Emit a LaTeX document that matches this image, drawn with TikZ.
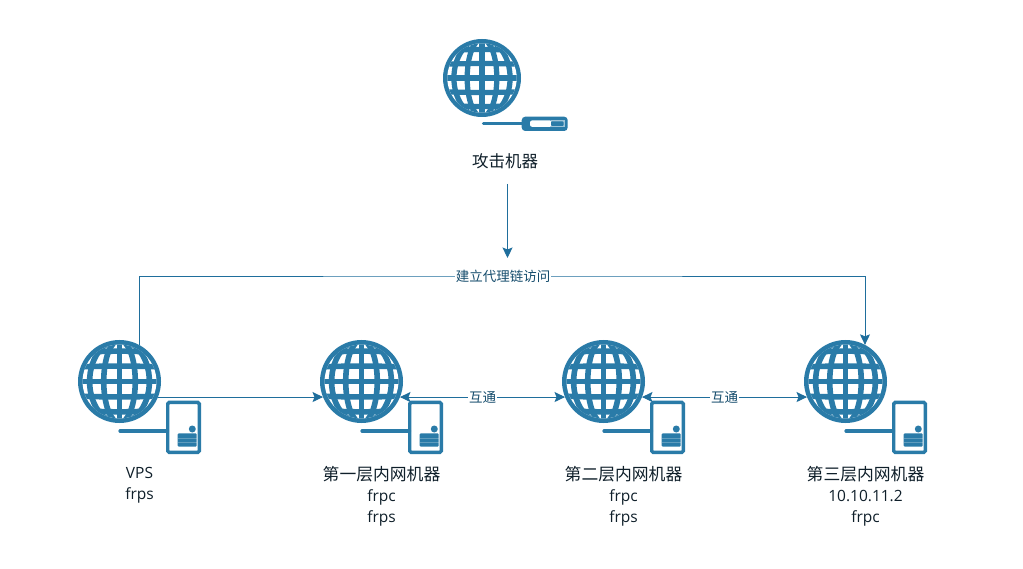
\documentclass[tikz,border=0pt]{standalone}
\usepackage{fontspec}
\setmainfont{Open Sans}
\newfontfamily\cjk{Noto Sans CJK SC}
\usetikzlibrary{arrows.meta,calc}
\definecolor{iconblue}{HTML}{2A7BA8}
\definecolor{linkblue}{HTML}{1F6E9C}
\definecolor{labelink}{HTML}{0F1F2A}
\tikzset{
  x=1pt,y=1pt,
  tipshape/.tip={Stealth[length=10.5pt,width=10pt,inset=2pt]},
  conn/.style={draw=linkblue,line width=0.9pt,-tipshape},
  connboth/.style={draw=linkblue,line width=0.9pt,tipshape-tipshape},
  hub/.style={circle,minimum size=#1,inner sep=0pt,outer sep=0pt},
  caption/.style={align=center,font=\fontsize{15.5}{21}\selectfont,text=labelink},
  cjkcap/.style={font=\cjk\fontsize{16.8}{21}\selectfont},
  linklabel/.style={fill=white,inner sep=1pt,font=\cjk\fontsize{13.5}{15}\selectfont,text=linkblue!70!black},
}
\newcommand{\globeat}[2]{%
  \begin{scope}[shift={(#1)},x=#2pt,y=#2pt]
    \fill[iconblue] (0,0) circle (1);
    \clip (0,0) circle (0.89);
    \fill[white] (-1,-1) rectangle (1,1);
    \foreach \k in {-0.69,-0.35,0,0.35,0.69}{
      \draw[iconblue,line width=0.135*#2pt] (-1,\k) .. controls (-0.4,\k*1.08) and (0.4,\k*1.08) .. (1,\k);
    }
    \draw[iconblue,line width=0.135*#2pt] (0,-1) -- (0,1);
    \draw[iconblue,line width=0.135*#2pt] (0,0) ellipse (0.38 and 1);
    \draw[iconblue,line width=0.135*#2pt] (0,0) ellipse (0.72 and 1);
  \end{scope}}
\newcommand{\serverat}[1]{%
  \begin{scope}[shift={(#1)}]
    \draw[iconblue,line width=3.4pt,rounded corners=1.5pt] (48.2,-20.9) rectangle (79.8,-70.9);
    \draw[iconblue,line width=3.2pt,line cap=round] (0.5,-49.5) -- (48,-49.5);
    \fill[iconblue] (72.8,-47.5) circle (3.5);
    \fill[iconblue,rounded corners=1pt] (58.2,-51.8) rectangle (77.2,-65.2);
    \draw[white,opacity=0.25,line width=0.5pt] (58.2,-56.3) -- (77.2,-56.3) (58.2,-60.8) -- (77.2,-60.8);
  \end{scope}}
\begin{document}
\begin{tikzpicture}
\useasboundingbox (0,0) rectangle (1023,-569);
\fill[white] (0,0) rectangle (1023,-569);

% hubs
\node[hub=83pt] (vps) at (119.5,-381.5) {};
\node[hub=83pt] (lone) at (361.5,-381.5) {};
\node[hub=83pt] (ltwo) at (603.5,-381.5) {};
\node[hub=83pt] (lthree) at (845.5,-381.5) {};
\node[hub=78pt] (atk) at (482,-78) {};

\globeat{vps.center}{41.5}
\globeat{lone.center}{41.5}
\globeat{ltwo.center}{41.5}
\globeat{lthree.center}{41.5}
\globeat{atk.center}{39}
\serverat{vps.center}
\serverat{lone.center}
\serverat{ltwo.center}
\serverat{lthree.center}

% attacker tool
\draw[iconblue,line width=3.2pt,line cap=round] (483.5,-123.5) -- (524,-123.5);
\fill[iconblue,rounded corners=3.5pt] (521.7,-116.7) rectangle (567.7,-131);
\fill[white,rounded corners=2pt] (530,-120.5) rectangle (552,-126.8);
\fill[iconblue!45] (551,-120.5) rectangle (564.5,-126.8);
\fill[iconblue,rounded corners=1pt] (551,-121.3) rectangle (563.5,-126);

% captions
\node[caption,font=\cjk\fontsize{16.5}{21}\selectfont] (atklabel) at (505,-161.5) {攻击机器};
\node[caption] (vpslabel) at (139.5,-485) {VPS\\frps};
\node[caption] (lonelabel) at (381.5,-496) {{\cjk\fontsize{16.8}{21}\selectfont 第一层内网机器}\\frpc\\frps};
\node[caption] (ltwolabel) at (623.5,-496) {{\cjk\fontsize{16.8}{21}\selectfont 第二层内网机器}\\frpc\\frps};
\node[caption] (lthreelabel) at (865.5,-496) {{\cjk\fontsize{16.8}{21}\selectfont 第三层内网机器}\\10.10.11.2\\frpc};

% connectors
\coordinate (atkout) at (507.5,-184);
\coordinate (chainin) at (507.5,-258);
\draw[conn] (atkout) -- (chainin);
\draw[conn] (vps.62) |- (503,-276) -| (lthree.62);
\node[linklabel] at (503,-276) {建立代理链访问};
\draw[conn] (vps.-22) -- (lone.202);
\draw[connboth] (lone.-22) -- (ltwo.202) node[midway,linklabel] {互通};
\draw[connboth] (ltwo.-22) -- (lthree.202) node[midway,linklabel] {互通};
\end{tikzpicture}
\end{document}
